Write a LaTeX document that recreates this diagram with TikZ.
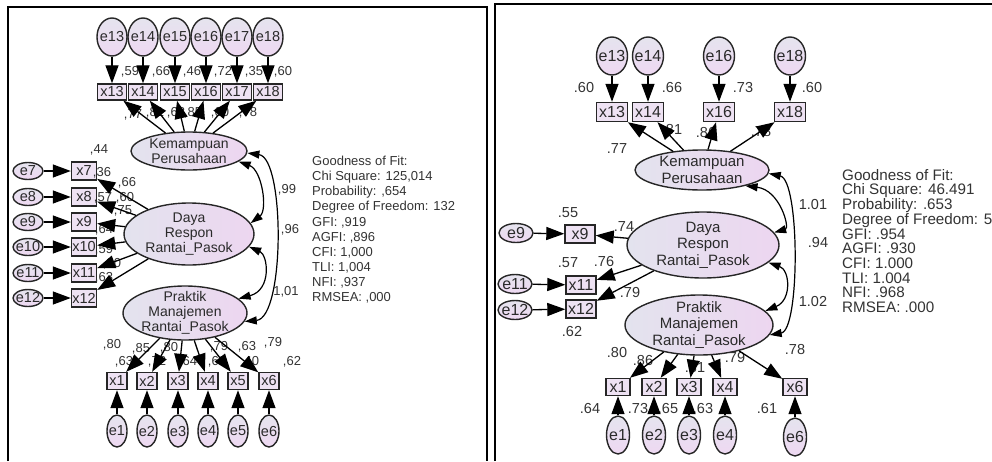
\documentclass[tikz,border=0pt]{standalone}
\usepackage{fontspec}
\setmainfont{Liberation Sans}
\usetikzlibrary{shapes.geometric,arrows.meta}
\definecolor{edgec}{HTML}{262626}
\definecolor{inkc}{HTML}{2A2A2A}
\definecolor{txtc}{HTML}{333333}
\definecolor{latl}{HTML}{E3E3EE}
\definecolor{latr}{HTML}{EDD6F0}
\definecolor{boxc}{HTML}{EEE2F3}
\definecolor{errt}{HTML}{E5E4EE}
\definecolor{errb}{HTML}{EED8F2}
\tikzset{
  latent/.style={ellipse, draw=edgec, line width=1.4pt, left color=latl, right color=latr, inner sep=0pt},
  resid/.style={ellipse, draw=edgec, line width=1.4pt, top color=errt, bottom color=errb, inner sep=0pt},
  manifest/.style={rectangle, draw=edgec, line width=1.4pt, fill=boxc, inner sep=0pt},
  load/.style={draw=black, line width=1.3pt, -{Triangle[length=18pt,width=13pt]}},
  corr/.style={draw=black, line width=1.2pt, {Triangle[length=12pt,width=8pt]}-{Triangle[length=12pt,width=8pt]}},
  litem/.style={font=\fontsize{14.5}{15}\selectfont, text=inkc},
  ritem/.style={font=\fontsize{16}{17}\selectfont, text=inkc},
  llat/.style={font=\fontsize{14}{15}\selectfont, text=inkc, align=center},
  rlat/.style={font=\fontsize{15}{16.5}\selectfont, text=inkc, align=center},
  lnum/.style={font=\fontsize{13}{13}\selectfont, text=txtc, inner sep=0pt},
  rnum/.style={font=\fontsize{14.5}{15}\selectfont, text=txtc, inner sep=0pt},
  gof/.style={text=txtc, align=left, anchor=north west, inner sep=0pt},
  ltope/.style={resid, minimum width=30pt, minimum height=38pt},
  lsidee/.style={resid, minimum width=30pt, minimum height=17pt},
  lbote/.style={resid, minimum width=20pt, minimum height=32pt},
  ltopx/.style={manifest, litem, minimum width=29pt, minimum height=16pt},
  lsidex/.style={manifest, litem, minimum width=25pt, minimum height=18pt},
  lbotx/.style={manifest, litem, minimum width=20pt, minimum height=17pt},
  rtope/.style={resid, minimum width=31pt, minimum height=38pt},
  rsidee/.style={resid, minimum width=34pt, minimum height=19pt},
  rbote/.style={resid, minimum width=23pt, minimum height=38pt},
  rtopx/.style={manifest, ritem, minimum width=31pt, minimum height=19pt},
  rsidex/.style={manifest, ritem, minimum width=30pt, minimum height=18pt},
  rbotx/.style={manifest, ritem, minimum width=24pt, minimum height=17pt},
}

\begin{document}
\begin{tikzpicture}[x=1pt,y=-1pt]
\useasboundingbox (0,0) rectangle (992,461);
\draw[line width=2pt] (8,461) -- (8,7) -- (487,7) -- (487,461);
\draw[line width=2pt] (495,461) -- (495,4) -- (992,4);

\node[latent, minimum width=116pt, minimum height=38pt, label={[llat]center:Kemampuan\\Perusahaan}] (lkem) at (189,151) {};
\node[latent, minimum width=130pt, minimum height=62pt, label={[llat]center:Daya\\Respon\\Rantai\_Pasok}] (ldaya) at (189,234) {};
\node[latent, minimum width=124pt, minimum height=54pt, label={[llat]center:Praktik\\Manajemen\\Rantai\_Pasok}] (lprak) at (185,313) {};
\node[ltope, label={[litem]center:e13}] (le13) at (112,37) {};
\node[ltope, label={[litem]center:e14}] (le14) at (143,37) {};
\node[ltope, label={[litem]center:e15}] (le15) at (175,37) {};
\node[ltope, label={[litem]center:e16}] (le16) at (206,37) {};
\node[ltope, label={[litem]center:e17}] (le17) at (237,37) {};
\node[ltope, label={[litem]center:e18}] (le18) at (268,37) {};
\node[ltopx] (lx13) at (112,92) {x13};
\node[ltopx] (lx14) at (143,92) {x14};
\node[ltopx] (lx15) at (175,92) {x15};
\node[ltopx] (lx16) at (206,92) {x16};
\node[ltopx] (lx17) at (237,92) {x17};
\node[ltopx] (lx18) at (268,92) {x18};
\node[lsidee, label={[litem]center:e7}] (le7) at (28,171) {};
\node[lsidee, label={[litem]center:e8}] (le8) at (28,197) {};
\node[lsidee, label={[litem]center:e9}] (le9) at (28,222) {};
\node[lsidee, label={[litem]center:e10}] (le10) at (28,247) {};
\node[lsidee, label={[litem]center:e11}] (le11) at (28,273) {};
\node[lsidee, label={[litem]center:e12}] (le12) at (28,298) {};
\node[lsidex] (lx7) at (84,171) {x7};
\node[lsidex] (lx8) at (84,197) {x8};
\node[lsidex] (lx9) at (84,222) {x9};
\node[lsidex] (lx10) at (84,247) {x10};
\node[lsidex] (lx11) at (84,273) {x11};
\node[lsidex] (lx12) at (84,298) {x12};
\node[lbotx] (lx1) at (117,381) {x1};
\node[lbotx] (lx2) at (147,381) {x2};
\node[lbotx] (lx3) at (178,381) {x3};
\node[lbotx] (lx4) at (208,381) {x4};
\node[lbotx] (lx5) at (238,381) {x5};
\node[lbotx] (lx6) at (269,381) {x6};
\node[lbote, label={[litem]center:e1}] (le1) at (117,431) {};
\node[lbote, label={[litem]center:e2}] (le2) at (147,431) {};
\node[lbote, label={[litem]center:e3}] (le3) at (178,431) {};
\node[lbote, label={[litem]center:e4}] (le4) at (208,431) {};
\node[lbote, label={[litem]center:e5}] (le5) at (238,431) {};
\node[lbote, label={[litem]center:e6}] (le6) at (269,431) {};

\node[lnum] (lr13) at (130,72) {,59};
\node[lnum] (lr14) at (161,72) {,66};
\node[lnum] (lr15) at (192,72) {,46};
\node[lnum] (lr16) at (223,72) {,72};
\node[lnum] (lr17) at (254,72) {,35};
\node[lnum] (lr18) at (283,72) {,60};
\node[lnum] (ll13) at (133,115) {,77};
\node[lnum] (ll14) at (155,113) {,81};
\node[lnum] (ll15) at (176,113) {,68};
\node[lnum] (ll16) at (193,113) {,85};
\node[lnum] (ll17) at (220,113) {,60};
\node[lnum] (ll18) at (248,113) {,78};
\node[lnum] (lr7) at (99,150) {,44};
\node[lnum] (lr8) at (102,173) {,36};
\node[lnum] (lr9) at (103,198) {,57};
\node[lnum] (lr10) at (104,230) {,64};
\node[lnum] (lr11) at (104,250) {,59};
\node[lnum] (lr12) at (104,278) {,63};
\node[lnum] (ll7) at (127,183) {,66};
\node[lnum] (ll8) at (125,198) {,60};
\node[lnum] (ll9) at (123,211) {,75};
\node[lnum] (ll11) at (112,264) {,80};
\node[lnum] (ll1) at (112,345) {,80};
\node[lnum] (ll2) at (141,349) {,85};
\node[lnum] (ll3) at (169,348) {,80};
\node[lnum] (ll4) at (219,347) {,79};
\node[lnum] (ll5) at (247,347) {,63};
\node[lnum] (ll6) at (273,343) {,79};
\node[lnum] (lr1) at (124,362) {,63};
\node[lnum] (lr2) at (157,362) {,72};
\node[lnum] (lr3) at (188,362) {,64};
\node[lnum] (lr4) at (217,362) {,63};
\node[lnum] (lr5) at (250,362) {,40};
\node[lnum] (lr6) at (292,362) {,62};
\node[lnum] (lc1) at (287,190) {,99};
\node[lnum] (lc2) at (290,230) {,96};
\node[lnum] (lc3) at (286,292) {1,01};
\node[gof, font=\fontsize{13}{15.1}\selectfont] (lgof) at (312,156) {Goodness of Fit:\\Chi Square: 125,014\\Probability: ,654\\Degree of Freedom: 132\\GFI: ,919\\AGFI: ,896\\CFI: 1,000\\TLI: 1,004\\NFI: ,937\\RMSEA: ,000};

\draw[load] (le13) -- (lx13);
\draw[load] (le14) -- (lx14);
\draw[load] (le15) -- (lx15);
\draw[load] (le16) -- (lx16);
\draw[load] (le17) -- (lx17);
\draw[load] (le18) -- (lx18);
\draw[load] (lkem) -- (lx13);
\draw[load] (lkem) -- (lx14);
\draw[load] (lkem) -- (lx15);
\draw[load] (lkem) -- (lx16);
\draw[load] (lkem) -- (lx17);
\draw[load] (lkem) -- (lx18);
\draw[load] (le7) -- (lx7);
\draw[load] (le8) -- (lx8);
\draw[load] (le9) -- (lx9);
\draw[load] (le10) -- (lx10);
\draw[load] (le11) -- (lx11);
\draw[load] (le12) -- (lx12);
\draw[load] (ldaya) -- (lx7);
\draw[load] (ldaya) -- (lx8);
\draw[load] (ldaya) -- (lx9);
\draw[load] (ldaya) -- (lx10);
\draw[load] (ldaya) -- (lx11);
\draw[load] (ldaya) -- (lx12);
\draw[load] (le1) -- (lx1);
\draw[load] (le2) -- (lx2);
\draw[load] (le3) -- (lx3);
\draw[load] (le4) -- (lx4);
\draw[load] (le5) -- (lx5);
\draw[load] (le6) -- (lx6);
\draw[load] (lprak) -- (lx1);
\draw[load] (lprak) -- (lx2);
\draw[load] (lprak) -- (lx3);
\draw[load] (lprak) -- (lx4);
\draw[load] (lprak) -- (lx5);
\draw[load] (lprak) -- (lx6);
\draw[corr] (lkem.-12) .. controls (262,170) and (268,210) .. (ldaya.10);
\draw[corr] (lkem.-2) .. controls (285,158) and (285,318) .. (lprak.-8);
\draw[corr] (ldaya.-12) .. controls (268,255) and (272,290) .. (lprak.15);

\node[latent, minimum width=134pt, minimum height=40pt, label={[rlat]center:Kemampuan\\Perusahaan}] (rkem) at (702,170) {};
\node[latent, minimum width=152pt, minimum height=66pt, label={[rlat]center:Daya\\Respon\\Rantai\_Pasok}] (rdaya) at (703,245) {};
\node[latent, minimum width=148pt, minimum height=60pt, label={[rlat]center:Praktik\\Manajemen\\Rantai\_Pasok}] (rprak) at (699,325) {};
\node[rtope, label={[ritem]center:e13}] (re13) at (612,56) {};
\node[rtope, label={[ritem]center:e14}] (re14) at (648,56) {};
\node[rtope, label={[ritem]center:e16}] (re16) at (719,56) {};
\node[rtope, label={[ritem]center:e18}] (re18) at (790,56) {};
\node[rtopx] (rx13) at (612,112) {x13};
\node[rtopx] (rx14) at (648,112) {x14};
\node[rtopx] (rx16) at (719,112) {x16};
\node[rtopx] (rx18) at (790,112) {x18};
\node[rsidee, label={[ritem]center:e9}] (re9) at (516,233) {};
\node[rsidee, label={[ritem]center:e11}] (re11) at (515,284) {};
\node[rsidee, label={[ritem]center:e12}] (re12) at (515,310) {};
\node[rsidex] (rx9) at (580,234) {x9};
\node[rsidex] (rx11) at (581,285) {x11};
\node[rsidex] (rx12) at (581,309) {x12};
\node[rbotx] (rx1) at (618,387) {x1};
\node[rbotx] (rx2) at (654,387) {x2};
\node[rbotx] (rx3) at (689,387) {x3};
\node[rbotx] (rx4) at (725,387) {x4};
\node[rbotx] (rx6) at (795,387) {x6};
\node[rbote, label={[ritem]center:e1}] (re1) at (618,435) {};
\node[rbote, label={[ritem]center:e2}] (re2) at (654,435) {};
\node[rbote, label={[ritem]center:e3}] (re3) at (689,435) {};
\node[rbote, label={[ritem]center:e4}] (re4) at (725,435) {};
\node[rbote, label={[ritem]center:e6}] (re6) at (795,437) {};

\node[rnum] (rr13) at (584,88) {.60};
\node[rnum] (rr14) at (672,88) {.66};
\node[rnum] (rr16) at (743,88) {.73};
\node[rnum] (rr18) at (812,88) {.60};
\node[rnum] (rl13) at (617,149) {.77};
\node[rnum] (rl14) at (672,130) {.81};
\node[rnum] (rl16) at (706,133) {.86};
\node[rnum] (rl18) at (761,132) {.78};
\node[rnum] (rr9) at (568,213) {.55};
\node[rnum] (rl9) at (624,227) {.74};
\node[rnum] (rr11) at (568,263) {.57};
\node[rnum] (rl11) at (604,262) {.76};
\node[rnum] (rl12) at (630,293) {.79};
\node[rnum] (rr12) at (572,332) {.62};
\node[rnum] (rl1) at (617,353) {.80};
\node[rnum] (rl2) at (643,360) {.86};
\node[rnum] (rl3) at (695,368) {.81};
\node[rnum] (rl4) at (735,358) {.79};
\node[rnum] (rl6) at (795,350) {.78};
\node[rnum] (rr1) at (590,408) {.64};
\node[rnum] (rr2) at (638,408) {.73};
\node[rnum] (rr3) at (668,408) {.65};
\node[rnum] (rr4) at (703,408) {.63};
\node[rnum] (rr6) at (767,408) {.61};
\node[rnum] (rc1) at (813,205) {1.01};
\node[rnum] (rc2) at (818,243) {.94};
\node[rnum] (rc3) at (813,302) {1.02};
\node[gof, font=\fontsize{15.2}{14.7}\selectfont] (rgof) at (842,169) {Goodness of Fit:\\Chi Square: 46.491\\Probability: .653\\Degree of Freedom: 51\\GFI: .954\\AGFI: .930\\CFI: 1.000\\TLI: 1.004\\NFI: .968\\RMSEA: .000};

\draw[load] (re13) -- (rx13);
\draw[load] (re14) -- (rx14);
\draw[load] (re16) -- (rx16);
\draw[load] (re18) -- (rx18);
\draw[load] (rkem) -- (rx13);
\draw[load] (rkem) -- (rx14);
\draw[load] (rkem) -- (rx16);
\draw[load] (rkem) -- (rx18);
\draw[load] (re9) -- (rx9);
\draw[load] (re11) -- (rx11);
\draw[load] (re12) -- (rx12);
\draw[load] (rdaya) -- (rx9);
\draw[load] (rdaya) -- (rx11);
\draw[load] (rdaya) -- (rx12);
\draw[load] (re1) -- (rx1);
\draw[load] (re2) -- (rx2);
\draw[load] (re3) -- (rx3);
\draw[load] (re4) -- (rx4);
\draw[load] (re6) -- (rx6);
\draw[load] (rprak) -- (rx1);
\draw[load] (rprak) -- (rx2);
\draw[load] (rprak) -- (rx3);
\draw[load] (rprak) -- (rx4);
\draw[load] (rprak) -- (rx6);
\draw[corr] (rkem.-20) .. controls (780,190) and (790,228) .. (rdaya.10);
\draw[corr] (rkem.-3) .. controls (800,180) and (800,330) .. (rprak.-8);
\draw[corr] (rdaya.-15) .. controls (790,270) and (792,300) .. (rprak.12);
\end{tikzpicture}
\end{document}
